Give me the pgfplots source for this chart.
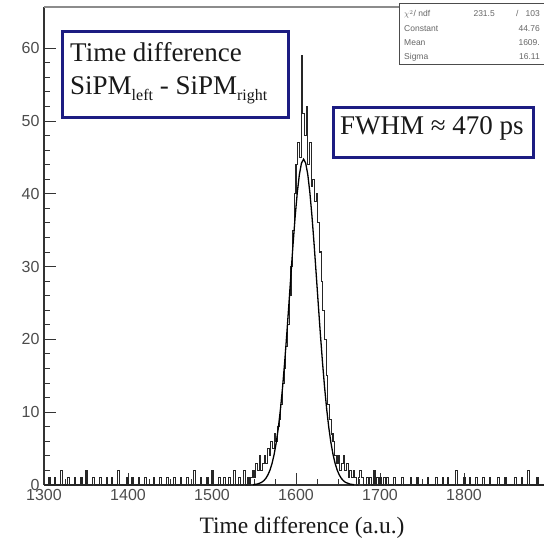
\documentclass[border=0pt]{standalone}
\usepackage{pgfplots}
\pgfplotsset{compat=1.18}
\usepackage{fontspec}
\setmainfont{Liberation Serif}
\newfontfamily\rootsans{Liberation Sans}
\definecolor{boxblue}{RGB}{28,28,130}

\begin{document}
\begin{tikzpicture}[x=1pt,y=1pt]
\begin{axis}[
    scale only axis,
    width=500pt, height=478pt,
    xmin=1300, xmax=1895.2,
    ymin=0, ymax=65.66,
    axis lines*=left,
    axis line style={black!80, line width=1.2pt},
    tick align=inside,
    xtick={1300,1400,...,1800},
    ytick={0,10,...,60},
    minor x tick num=3,
    minor y tick num=4,
    major tick length=12pt,
    minor tick length=6pt,
    every tick/.style={black!80, line width=1pt},
    /pgf/number format/assume math mode=true,
    /pgf/number format/1000 sep={},
    ticklabel style={font=\rootsans\fontsize{16}{16}\selectfont, text=black!70},
    xticklabel style={yshift=-1pt},
    yticklabel style={xshift=-1pt},
    clip=false,
]
% histogram (bin width 2, left edges)
\addplot[const plot, black!85, line width=1.1pt] coordinates {
(1300,0)
(1306,1)(1308,0)(1312,1)(1314,0)(1320,2)(1322,0)(1328,1)(1330,0)
(1336,1)(1338,0)(1344,1)(1346,0)(1350,2)(1352,0)(1358,1)(1360,0)
(1366,1)(1368,0)(1374,1)(1376,0)(1380,1)(1382,0)(1388,2)(1390,0)
(1398,1)(1400,0)(1404,1)(1406,0)(1412,1)(1414,0)(1420,1)(1422,0)
(1430,1)(1432,0)(1438,1)(1440,0)(1446,1)(1448,0)(1454,1)(1456,0)
(1462,1)(1464,0)(1470,1)(1472,0)(1478,2)(1480,0)(1486,1)(1488,0)
(1494,1)(1496,0)(1500,2)(1502,0)(1508,1)(1510,0)(1514,1)(1516,0)
(1520,1)(1522,0)(1526,2)(1528,0)(1532,1)(1534,0)(1538,2)(1540,0)
(1542,1)(1544,0)
(1546,1)(1548,2)(1550,1)(1552,3)(1554,2)(1556,4)(1558,2)(1560,3)
(1562,4)(1564,3)(1566,5)(1568,4)(1570,6)(1572,5)(1574,7)(1576,6)
(1578,8)(1580,9)(1582,11)(1584,14)(1586,16)(1588,19)(1590,22)(1592,26)
(1594,30)(1596,35)(1598,40)(1600,44)(1602,47)(1604,45)(1606,59)(1608,51)
(1610,48)(1612,52)(1614,44)(1616,47)(1618,41)(1620,42)(1622,39)(1624,40)
(1626,36)(1628,32)(1630,28)(1632,24)(1634,20)(1636,15)(1638,11)(1640,9)
(1642,7)(1644,6)(1646,4)(1648,3)(1650,4)(1652,2)(1654,3)(1656,4)
(1658,2)(1660,3)(1662,1)(1664,2)(1666,1)(1668,2)(1670,1)(1672,0)
(1674,1)(1676,2)(1678,1)(1680,0)
(1684,1)(1686,0)(1688,1)(1690,0)(1692,2)(1694,0)(1696,1)(1698,0)
(1700,1)(1702,0)(1704,1)(1706,0)(1708,1)(1710,0)(1716,1)(1718,0)
(1726,1)(1728,0)(1736,1)(1738,0)(1744,1)(1746,0)(1756,1)(1758,0)
(1766,1)(1768,0)(1774,1)(1776,0)(1780,1)(1782,0)(1790,2)(1792,0)
(1800,1)(1802,0)(1806,1)(1808,0)(1814,1)(1816,0)(1822,1)(1824,0)
(1830,1)(1832,0)(1840,1)(1842,0)(1848,1)(1850,0)(1860,1)(1862,0)
(1868,1)(1870,0)(1876,2)(1878,0)(1886,1)(1888,0)(1895,0)
};
% gaussian fit (Constant 44.76, Mean 1609, Sigma 16.11)
\addplot[black, line width=1.3pt] coordinates {
(1549,0.04)(1554,0.13)(1559,0.36)(1561.5,0.58)(1564,0.90)(1566.5,1.38)
(1569,2.05)(1571.5,2.98)(1574,4.23)(1576.5,5.85)(1579,7.90)(1581.5,10.43)
(1584,13.43)(1586.5,16.88)(1589,20.72)(1591.5,24.81)(1594,29.01)(1596.5,33.12)
(1599,36.91)(1601.5,40.16)(1604,42.65)(1606.5,44.22)(1609,44.76)(1611.5,44.22)
(1614,42.65)(1616.5,40.16)(1619,36.91)(1621.5,33.12)(1624,29.01)(1626.5,24.81)
(1629,20.72)(1631.5,16.88)(1634,13.43)(1636.5,10.43)(1639,7.90)(1641.5,5.85)
(1644,4.23)(1646.5,2.98)(1649,2.05)(1651.5,1.38)(1654,0.90)(1656.5,0.58)
(1659,0.36)(1664,0.13)(1669,0.04)
};
\end{axis}

% top frame line
\draw[black!45, line width=1.2pt] (0,478) -- (500,478);

% stat box
\draw[black!70, line width=0.8pt, fill=white] (500,482) -- (355,482) -- (355,421) -- (500,421);
\begin{scope}[font=\rootsans\fontsize{8.5}{8.5}\selectfont, text=black!60]
  \node[anchor=base west, inner sep=0] at (360,468) {$\chi^2$/ ndf};
  \node[anchor=base east, inner sep=0] at (451,468) {231.5};
  \node[anchor=base east, inner sep=0] at (496,468) {/\ \ \ 103};
  \node[anchor=base west, inner sep=0] at (360,453) {Constant};
  \node[anchor=base east, inner sep=0] at (496,453) {44.76};
  \node[anchor=base west, inner sep=0] at (360,439) {Mean};
  \node[anchor=base east, inner sep=0] at (496,439) {1609.};
  \node[anchor=base west, inner sep=0] at (360,425) {Sigma};
  \node[anchor=base east, inner sep=0] at (496,425) {16.11};
\end{scope}

% annotation boxes
\draw[boxblue, line width=3pt, fill=white] (18,453) rectangle (244,367);
\node[anchor=base west, inner sep=0, text=black!90, font=\fontsize{27}{27}\selectfont] at (26,423) {Time difference};
\node[anchor=base west, inner sep=0, text=black!90, font=\fontsize{27}{27}\selectfont] at (26,390)
  {SiPM\raisebox{-0.22em}{\fontsize{16}{16}\selectfont left} - SiPM\raisebox{-0.22em}{\fontsize{16}{16}\selectfont right}};

\draw[boxblue, line width=3pt, fill=white] (289,377) rectangle (489,328);
\node[anchor=base west, inner sep=0, text=black!90, font=\fontsize{27}{27}\selectfont] at (296,350) {FWHM ≈ 470 ps};

% x label
\node[anchor=base, inner sep=0, text=black!90, font=\fontsize{23.5}{23.5}\selectfont] at (258,-48) {Time difference (a.u.)};

\pgfresetboundingbox
\path[use as bounding box] (-44,-57) rectangle (500,485);
\end{tikzpicture}
\end{document}
